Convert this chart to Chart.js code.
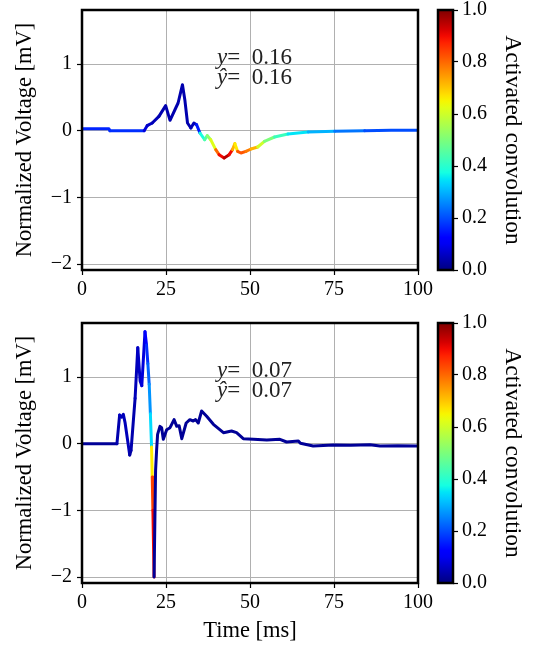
<!DOCTYPE html>
<html lang="en">
<head>
  <meta charset="UTF-8">
  <title>Activated convolution</title>
  <script src="https://cdn.jsdelivr.net/npm/chart.js"></script>
  <style>
    body { margin: 0; background: #fff; }
    #wrap { position: relative; width: 537px; height: 645px; }
    canvas { position: absolute; }
  </style>
</head>
<body>
<div id="wrap">
  <canvas id="topChart" width="445" height="310" style="left:0;top:0"></canvas>
  <canvas id="topBar" width="117" height="310" style="left:420px;top:0"></canvas>
  <canvas id="botChart" width="445" height="332" style="left:0;top:313px"></canvas>
  <canvas id="botBar" width="117" height="310" style="left:420px;top:313px"></canvas>
</div>
<script>
// top panel: time [ms], voltage [mV], activation (colour of the segment that starts at each point)
const timeTop = [0, 8, 8.3, 18.5, 19.4, 20.9, 22.9, 24.9, 26.2, 27.9, 28.6, 29.9, 30.6, 31.4, 32.4, 33.3, 34.1, 35.1, 36.5, 37.3,
  38.3, 39.8, 40.8, 42.3, 43.8, 44.8, 45.5, 46.3, 47.3, 48.8, 50.3, 52.3, 54.3, 57.3, 61.3, 67.3, 75.2, 84.1, 92, 100];
const voltTop = [0.03, 0.03, 0, 0, 0.075, 0.115, 0.215, 0.375, 0.155, 0.34, 0.415, 0.69, 0.465, 0.115, 0.04, 0.115, 0.09, -0.035, -0.135, -0.075,
  -0.135, -0.285, -0.36, -0.41, -0.36, -0.285, -0.195, -0.31, -0.335, -0.31, -0.275, -0.245, -0.16, -0.095, -0.05, -0.02, -0.01, 0, 0.005, 0.005];
const actTop = [0.16, 0.16, 0.17, 0.08, 0.06, 0.05, 0.04, 0.04, 0.04, 0.04, 0.04, 0.04, 0.04, 0.04, 0.05, 0.05, 0.15, 0.38, 0.45, 0.52,
  0.62, 0.8, 0.9, 0.95, 0.9, 0.72, 0.66, 0.82, 0.82, 0.78, 0.72, 0.6, 0.5, 0.42, 0.35, 0.3, 0.24, 0.2, 0.2, 0.2];

// bottom panel
const timeBot = [0, 10.4, 11.2, 11.8, 12.3, 12.8, 14.2, 14.6, 15.8, 16.6, 17.3, 17.8, 18.75, 19.2, 19.6, 20.0, 20.35, 20.7, 20.9, 21.1, 21.45,
  21.9, 22.2, 22.5, 23.2, 23.7, 24.2, 25.2, 26.2, 27.4, 28.2, 28.9, 29.7, 31.0, 32.1, 33.1, 33.8, 34.6, 35.6, 37.1, 39.1,
  42.1, 44.5, 46.0, 48.0, 51.0, 55.0, 58.9, 60.9, 64.4, 65.0, 68.8, 74.8, 80, 85.7, 88.7, 94, 100];
const voltBot = [0, 0, 0.43, 0.40, 0.44, 0.32, -0.17, -0.1, 0.68, 1.44, 0.94, 0.87, 1.68, 1.48, 1.2, 0.89, 0.45, -0.05, -0.5, -1.0, -2.0,
  -0.4, -0.1, 0.14, 0.26, 0.24, 0.065, 0.21, 0.24, 0.36, 0.26, 0.27, 0.075, 0.31, 0.36, 0.34, 0.36, 0.31, 0.49, 0.41, 0.29,
  0.165, 0.19, 0.165, 0.075, 0.065, 0.055, 0.065, 0.025, 0.04, 0.005, -0.035, -0.02, -0.025, -0.015, -0.035, -0.03, -0.035];
const actBot = [0.02, 0.04, 0.06, 0.05, 0.05, 0.05, 0.03, 0.04, 0.05, 0.06, 0.06, 0.08, 0.12, 0.17, 0.22, 0.27, 0.34, 0.66, 0.84, 0.9, 0.02,
  0.02, 0.02, 0.02, 0.02, 0.02, 0.02, 0.02, 0.02, 0.02, 0.02, 0.02, 0.02, 0.02, 0.02, 0.02, 0.02, 0.02, 0.02, 0.02, 0.02,
  0.02, 0.02, 0.02, 0.02, 0.02, 0.02, 0.02, 0.02, 0.02, 0.02, 0.02, 0.02, 0.02, 0.02, 0.02, 0.02, 0.02];

const labelTop = ['0.16', '0.16'];
const labelBot = ['0.07', '0.07'];
const xTicks = [0, 25, 50, 75, 100];
const yTicks = [-2, -1, 0, 1];
const barTicks = [0, 0.2, 0.4, 0.6, 0.8, 1.0];

const SERIF = "'Liberation Serif', 'DejaVu Serif', serif";
Chart.defaults.font.family = SERIF;
Chart.defaults.font.size = 20;
Chart.defaults.color = '#000';

// matplotlib jet colormap
const JET_R = [[0, 0], [0.35, 0], [0.66, 1], [0.89, 1], [1, 0.5]];
const JET_G = [[0, 0], [0.125, 0], [0.375, 1], [0.64, 1], [0.91, 0], [1, 0]];
const JET_B = [[0, 0.5], [0.11, 1], [0.34, 1], [0.65, 0], [1, 0]];
function lerp(pts, x) {
  for (let i = 1; i < pts.length; i++) {
    if (x <= pts[i][0]) {
      const f = (x - pts[i - 1][0]) / (pts[i][0] - pts[i - 1][0]);
      return pts[i - 1][1] + f * (pts[i][1] - pts[i - 1][1]);
    }
  }
  return pts[pts.length - 1][1];
}
function jet(v) {
  v = Math.max(0, Math.min(1, v));
  return 'rgb(' + Math.round(255 * lerp(JET_R, v)) + ',' + Math.round(255 * lerp(JET_G, v)) + ',' + Math.round(255 * lerp(JET_B, v)) + ')';
}

// keep the plot box where layout.padding puts it
function noPad(s) {
  s.paddingTop = 0; s.paddingBottom = 0; s.paddingLeft = 0; s.paddingRight = 0;
}

const frame = {
  id: 'frame',
  afterDraw(chart) {
    const a = chart.chartArea, ctx = chart.ctx;
    ctx.save();
    ctx.strokeStyle = '#000';
    ctx.lineWidth = 2.5;
    ctx.strokeRect(a.left, a.top, a.right - a.left, a.bottom - a.top);
    ctx.restore();
  }
};

const note = {
  id: 'note',
  afterDatasetsDraw(chart, args, opts) {
    const ctx = chart.ctx, xs = chart.scales.x, ys = chart.scales.y;
    const x0 = xs.getPixelForValue(40.2);
    const rows = [['y', opts.text[0], 1.09], ['\u0177', opts.text[1], 0.79]];
    ctx.save();
    ctx.fillStyle = '#222';
    ctx.textBaseline = 'middle';
    rows.forEach(r => {
      const y = ys.getPixelForValue(r[2]);
      ctx.font = 'italic 23px ' + SERIF;
      ctx.fillText(r[0], x0, y);
      const w = ctx.measureText(r[0]).width;
      ctx.font = '23px ' + SERIF;
      ctx.fillText('=  ' + r[1], x0 + w, y);
    });
    ctx.restore();
  }
};

function panel(id, t, v, act, text, xTitle, xHeight) {
  return new Chart(document.getElementById(id), {
    type: 'line',
    data: {
      datasets: [{
        data: t.map((x, i) => ({ x: x, y: v[i] })),
        borderWidth: 3,
        borderColor: jet(act[0]),
        borderCapStyle: 'round',
        borderJoinStyle: 'round',
        pointRadius: 0,
        tension: 0,
        segment: { borderColor: c => jet(act[c.p0DataIndex]) }
      }]
    },
    options: {
      responsive: false,
      animation: false,
      layout: { padding: { top: 10, right: 27, left: 0, bottom: 0 } },
      plugins: { legend: { display: false }, tooltip: { enabled: false }, note: { text: text } },
      scales: {
        x: {
          type: 'linear', min: 0, max: 100,
          afterBuildTicks: s => { s.ticks = xTicks.map(x => ({ value: x })); },
          afterFit: s => { s.height = xHeight; noPad(s); },
          ticks: { padding: 3, maxRotation: 0 },
          grid: { color: '#b0b0b0', lineWidth: 1, tickColor: '#000', tickLength: 5, tickWidth: 1.2 },
          border: { display: false },
          title: { display: !!xTitle, text: xTitle, font: { size: 22.5 }, padding: { top: 0, bottom: 0 } }
        },
        y: {
          min: -2.09, max: 1.81,
          afterBuildTicks: s => { s.ticks = yTicks.map(x => ({ value: x })); },
          afterFit: s => { s.width = 82; noPad(s); },
          ticks: { padding: 5, callback: val => val < 0 ? '\u2212' + Math.abs(val) : String(val) },
          grid: { color: '#b0b0b0', lineWidth: 1, tickColor: '#000', tickLength: 5, tickWidth: 1.2 },
          border: { display: false },
          title: { display: true, text: 'Normalized Voltage [mV]', font: { size: 22.5 }, padding: { top: 12, bottom: 0 } }
        }
      }
    },
    plugins: [frame, note]
  });
}

function colorbar(id) {
  return new Chart(document.getElementById(id), {
    type: 'bar',
    data: {
      labels: ['a'],
      datasets: [{
        data: [[0, 1]],
        barPercentage: 1,
        categoryPercentage: 1,
        borderWidth: 0,
        backgroundColor: c => {
          const a = c.chart.chartArea;
          if (!a) return jet(0.5);
          const g = c.chart.ctx.createLinearGradient(0, a.bottom, 0, a.top);
          for (let i = 0; i <= 40; i++) g.addColorStop(i / 40, jet(i / 40));
          return g;
        }
      }]
    },
    options: {
      responsive: false,
      animation: false,
      layout: { padding: { top: 10, right: 0, left: 18, bottom: 40 } },
      plugins: { legend: { display: false }, tooltip: { enabled: false } },
      scales: {
        x: { display: false },
        y: {
          position: 'right', min: 0, max: 1,
          afterBuildTicks: s => { s.ticks = barTicks.map(x => ({ value: x })); },
          afterFit: s => { s.width = 84; noPad(s); },
          ticks: { padding: 4, callback: val => val.toFixed(1) },
          grid: { drawOnChartArea: false, tickColor: '#000', tickLength: 5, tickWidth: 1.2 },
          border: { display: false },
          title: { display: true, text: 'Activated convolution', font: { size: 23.5 }, padding: { top: 11, bottom: 0 } }
        }
      }
    },
    plugins: [frame]
  });
}

panel('topChart', timeTop, voltTop, actTop, labelTop, '', 40);
panel('botChart', timeBot, voltBot, actBot, labelBot, 'Time [ms]', 62);
colorbar('topBar');
colorbar('botBar');
</script>
</body>
</html>
